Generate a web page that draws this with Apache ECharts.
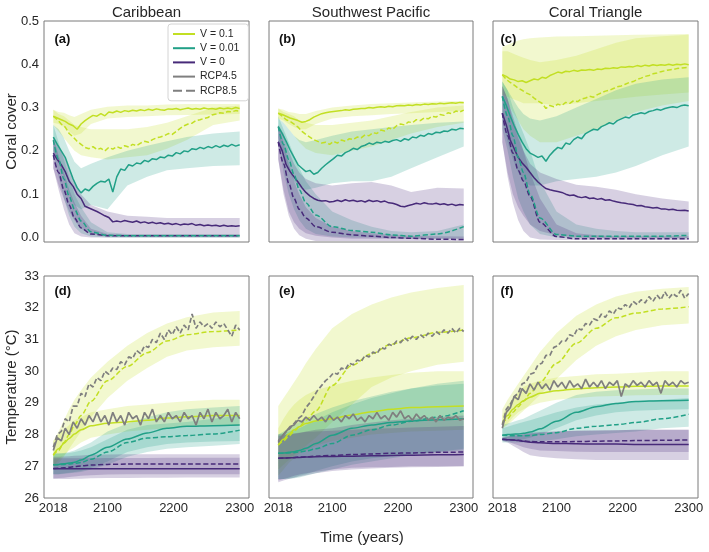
<!DOCTYPE html>
<html><head><meta charset="utf-8">
<script src="https://cdn.jsdelivr.net/npm/echarts@6/dist/echarts.min.js"></script>
<style>html,body{margin:0;padding:0;background:#fff}#c{width:709px;height:552px}</style>
</head><body><div id="c"></div>
<script>
// ---------- x positions ----------
const yrsN = [2018,2024,2030,2036,2042,2048,2054,2060,2066,2072,2078,2084,2090,2096,2102,2108,2114,2120,2126,2132,2138,2144,2150,2156,2162,2168,2174,2180,2186,2192,2198,2204,2210,2216,2222,2228,2234,2240,2246,2252,2258,2264,2270,2276,2282,2288,2294,2300];
const yrsB = [2018,2026,2034,2042,2050,2060,2075,2100,2130,2160,2190,2220,2260,2300];
const xTickLabels = [2018,2100,2200,2300];
const coverTickLabels = [0,0.1,0.2,0.3,0.4,0.5];
const columnTitles = ['Caribbean','Southwest Pacific','Coral Triangle'];
const panelLabels = ['(a)','(b)','(c)','(d)','(e)','(f)'];
const legendNames = ['V = 0.1','V = 0.01','V = 0','RCP4.5','RCP8.5'];

// ---------- (a) Caribbean coral cover ----------
const a_v01_45 = [.280,.276,.272,.268,.262,.258,.250,.262,.270,.276,.282,.280,.286,.281,.290,.288,.292,.289,.293,.291,.294,.292,.295,.293,.296,.294,.297,.295,.294,.297,.296,.298,.295,.297,.299,.296,.298,.296,.299,.297,.298,.296,.299,.297,.299,.297,.300,.298];
const a_v01_85 = [.280,.272,.262,.255,.240,.232,.222,.215,.208,.205,.210,.203,.206,.200,.208,.204,.210,.206,.212,.209,.215,.212,.218,.222,.220,.226,.230,.232,.235,.240,.238,.245,.252,.258,.262,.264,.270,.272,.275,.277,.283,.285,.288,.287,.291,.290,.293,.292];
const a_v001_45 = [.232,.215,.200,.185,.160,.135,.115,.103,.112,.108,.118,.125,.130,.128,.135,.105,.140,.158,.155,.168,.165,.172,.170,.178,.175,.182,.180,.186,.184,.190,.188,.196,.193,.200,.198,.205,.203,.208,.205,.210,.207,.212,.208,.213,.210,.215,.211,.214];
const a_v001_85 = [.225,.18,.135,.095,.065,.038,.013,.005,.004,.004,.004,.004,.004,.004];
const a_v0_45 = [.195,.180,.168,.152,.130,.118,.100,.090,.072,.068,.064,.060,.055,.050,.046,.036,.038,.036,.039,.037,.035,.038,.034,.036,.033,.035,.032,.034,.031,.033,.030,.032,.029,.031,.030,.032,.028,.030,.027,.029,.027,.028,.026,.028,.026,.027,.026,.027];
const a_v0_85 = [.19,.15,.11,.075,.045,.022,.008,.004,.004,.004,.004,.004,.004,.004];
const a_v01_45_lo = [.265,.262,.255,.245,.235,.24,.262,.275,.278,.28,.282,.283,.284,.285];
const a_v01_45_hi = [.295,.29,.288,.282,.278,.285,.295,.302,.305,.305,.307,.308,.308,.308];
const a_v01_85_lo = [.26,.245,.23,.215,.2,.19,.185,.18,.185,.19,.205,.225,.26,.27];
const a_v01_85_hi = [.295,.285,.28,.27,.26,.255,.25,.25,.25,.255,.265,.28,.3,.305];
const a_v001_45_lo = [.2,.175,.14,.1,.075,.065,.075,.065,.12,.14,.155,.16,.165,.167];
const a_v001_45_hi = [.26,.25,.23,.2,.175,.16,.17,.185,.2,.212,.222,.232,.24,.245];
const a_v001_85_lo = [.19,.14,.09,.05,.025,.01,.002,0,0,0,0,0,0,0];
const a_v001_85_hi = [.26,.22,.18,.14,.1,.07,.035,.012,.008,.008,.008,.008,.008,.008];
const a_v0_45_lo = [.16,.12,.09,.06,.04,.02,.008,.003,.003,.003,.003,.003,.003,.003];
const a_v0_45_hi = [.23,.21,.19,.16,.13,.1,.075,.06,.05,.048,.045,.045,.045,.045];
const a_v0_85_lo = [.16,.11,.065,.03,.01,.002,0,0,0,0,0,0,0,0];
const a_v0_85_hi = [.23,.19,.15,.11,.08,.05,.02,.008,.006,.006,.006,.006,.006,.006];

// ---------- (b) Southwest Pacific coral cover ----------
const b_v01_45 = [.287,.284,.280,.276,.273,.270,.266,.268,.272,.278,.282,.286,.288,.290,.291,.292,.293,.295,.294,.296,.297,.298,.298,.300,.299,.301,.302,.301,.303,.302,.304,.305,.304,.306,.305,.307,.306,.308,.307,.309,.308,.310,.309,.310,.311,.310,.312,.311];
const b_v01_85 = [.287,.280,.272,.268,.262,.255,.245,.238,.232,.226,.222,.218,.220,.215,.222,.218,.225,.222,.228,.226,.232,.230,.237,.235,.242,.240,.248,.246,.253,.250,.258,.262,.260,.267,.265,.272,.270,.276,.274,.280,.278,.284,.282,.288,.286,.292,.290,.294];
const b_v001_45 = [.256,.240,.222,.202,.185,.168,.160,.152,.155,.146,.150,.160,.168,.175,.182,.190,.188,.196,.200,.206,.203,.210,.213,.218,.215,.220,.218,.222,.220,.224,.226,.222,.228,.225,.232,.230,.236,.234,.240,.238,.243,.242,.246,.245,.250,.248,.252,.251];
const b_v001_85 = [.256,.215,.18,.145,.11,.08,.052,.025,.016,.012,.006,.003,.008,.025];
const b_v0_45 = [.221,.200,.168,.152,.140,.128,.115,.104,.096,.090,.086,.084,.085,.082,.083,.086,.083,.087,.084,.086,.083,.085,.082,.086,.083,.085,.082,.084,.080,.079,.076,.072,.071,.074,.076,.079,.077,.080,.078,.077,.079,.076,.078,.075,.077,.074,.076,.075];
const b_v0_85 = [.221,.17,.125,.09,.065,.045,.025,.012,.006,.003,0,-.002,-.004,-.005];
const b_v01_45_lo = [.275,.27,.262,.255,.25,.25,.262,.275,.28,.282,.285,.287,.29,.292];
const b_v01_45_hi = [.298,.295,.29,.288,.285,.285,.292,.3,.305,.308,.31,.312,.314,.315];
const b_v01_85_lo = [.275,.265,.25,.235,.22,.205,.195,.19,.2,.21,.225,.24,.255,.265];
const b_v01_85_hi = [.298,.29,.285,.28,.27,.265,.26,.26,.265,.27,.28,.29,.3,.305];
const b_v001_45_lo = [.23,.19,.155,.13,.115,.11,.115,.125,.13,.13,.14,.16,.185,.21];
const b_v001_45_hi = [.275,.265,.25,.235,.225,.22,.225,.235,.245,.25,.255,.26,.265,.268];
const b_v001_85_lo = [.22,.15,.1,.065,.04,.02,.008,.002,0,0,-.002,-.003,-.003,-.003];
const b_v001_85_hi = [.28,.25,.22,.19,.16,.13,.1,.06,.04,.025,.015,.012,.015,.03];
const b_v0_45_lo = [.18,.11,.06,.035,.02,.01,.004,0,-.003,-.003,-.003,-.003,-.003,-.003];
const b_v0_45_hi = [.26,.24,.2,.17,.15,.135,.125,.12,.125,.128,.12,.105,.115,.113];
const b_v0_85_lo = [.18,.1,.05,.02,.005,-.003,-.008,-.008,-.008,-.008,-.008,-.008,-.008,-.008];
const b_v0_85_hi = [.26,.22,.17,.13,.1,.07,.045,.025,.015,.01,.006,.004,.003,.002];

// ---------- (c) Coral Triangle coral cover ----------
const c_v01_45 = [.376,.372,.366,.364,.360,.362,.358,.362,.366,.364,.370,.368,.374,.378,.382,.380,.384,.383,.386,.384,.387,.386,.388,.386,.389,.388,.391,.390,.392,.391,.394,.393,.395,.394,.397,.395,.398,.396,.399,.397,.399,.398,.400,.398,.400,.399,.401,.399];
const c_v01_85 = [.376,.365,.358,.352,.345,.340,.334,.330,.322,.315,.310,.298,.305,.302,.308,.305,.312,.310,.316,.314,.320,.322,.326,.324,.330,.334,.338,.340,.344,.348,.350,.354,.358,.360,.365,.368,.372,.374,.378,.380,.383,.385,.387,.388,.390,.391,.392,.393];
const c_v001_45 = [.326,.305,.280,.258,.238,.220,.205,.195,.190,.185,.188,.176,.190,.200,.208,.205,.218,.215,.226,.232,.228,.240,.245,.250,.248,.256,.260,.265,.262,.270,.274,.278,.276,.283,.285,.288,.286,.291,.293,.296,.294,.298,.300,.302,.300,.304,.306,.304];
const c_v001_85 = [.326,.28,.235,.185,.15,.1,.045,.007,.003,.003,.003,.003,.003,.005];
const c_v0_45 = [.287,.260,.225,.205,.185,.172,.162,.150,.138,.128,.120,.113,.110,.108,.106,.104,.100,.097,.098,.094,.092,.094,.090,.091,.088,.090,.086,.087,.084,.082,.080,.079,.077,.076,.073,.074,.071,.070,.068,.069,.066,.066,.064,.065,.063,.062,.063,.061];
const c_v0_85 = [.287,.235,.195,.155,.13,.095,.035,.002,-.003,-.003,-.003,-.003,-.003,-.003];
const c_v01_45_lo = [.33,.325,.32,.315,.31,.31,.31,.305,.31,.315,.32,.325,.33,.335];
const c_v01_45_hi = [.44,.445,.45,.455,.458,.46,.462,.464,.465,.466,.467,.468,.469,.47];
const c_v01_85_lo = [.33,.31,.29,.27,.25,.235,.22,.22,.235,.25,.27,.29,.305,.315];
const c_v01_85_hi = [.43,.43,.425,.42,.415,.41,.405,.41,.42,.435,.45,.46,.465,.468];
const c_v001_45_lo = [.28,.22,.18,.15,.13,.12,.12,.13,.135,.14,.15,.165,.19,.21];
const c_v001_45_hi = [.36,.34,.32,.3,.285,.275,.27,.28,.3,.32,.34,.355,.365,.37];
const c_v001_85_lo = [.25,.2,.14,.09,.06,.03,.008,0,-.002,-.002,-.002,-.002,-.002,-.002];
const c_v001_85_hi = [.36,.34,.3,.27,.24,.2,.13,.06,.03,.02,.015,.012,.012,.012];
const c_v0_45_lo = [.22,.15,.1,.07,.05,.03,.015,.005,0,-.002,-.002,-.002,-.002,-.002];
const c_v0_45_hi = [.35,.32,.27,.23,.2,.17,.15,.135,.122,.117,.11,.1,.09,.083];
const c_v0_85_lo = [.22,.14,.08,.04,.015,0,-.005,-.006,-.006,-.006,-.006,-.006,-.006,-.006];
const c_v0_85_hi = [.35,.32,.28,.24,.2,.15,.09,.03,.01,.005,.003,.003,.003,.003];

// ---------- (d) Caribbean temperature ----------
const d_gray45 = [27.5,27.9,27.8,28.2,28.0,28.4,28.2,28.5,28.3,28.6,28.4,28.7,28.4,28.6,28.3,28.7,28.4,28.6,28.3,28.7,28.5,28.6,28.3,28.7,28.5,28.8,28.4,28.6,28.4,28.7,28.5,28.6,28.4,28.7,28.5,28.6,28.3,28.7,28.5,28.8,28.4,28.7,28.5,28.6,28.8,28.4,28.7,28.5];
const d_gray85 = [27.6,28.0,28.1,28.5,28.4,28.9,28.9,29.3,29.2,29.6,29.5,29.8,29.7,30.0,29.9,30.1,30.05,30.3,30.2,30.45,30.4,30.65,30.55,30.8,30.75,31.0,30.9,31.2,31.0,31.3,31.15,31.4,31.2,31.45,31.3,31.8,31.35,31.55,31.4,31.5,31.35,31.55,31.4,31.5,31.3,31.1,31.45,31.3];
const d_v01_45 = [27.35,27.55,27.72,27.88,28.02,28.15,28.28,28.36,28.4,28.45,28.52,28.56,28.6,28.6];
const d_v01_85 = [27.35,27.5,27.75,28.0,28.3,28.6,29.05,29.7,30.15,30.58,30.95,31.15,31.25,31.3];
const d_v001_45 = [27.05,27.06,27.08,27.1,27.13,27.2,27.35,27.6,27.86,28.05,28.2,28.26,28.28,28.3];
const d_v001_85 = [27.05,27.05,27.06,27.07,27.09,27.12,27.22,27.45,27.75,27.89,27.93,27.97,28.02,28.14];
const d_v0_45 = [26.92,26.92,26.92,26.92,26.92,26.92,26.92,26.92,26.92,26.92,26.92,26.92,26.92,26.92];
const d_v0_85 = [26.93,26.94,26.95,26.97,26.99,27.01,27.04,27.06,27.07,27.07,27.07,27.07,27.07,27.07];
const d_v01_45_lo = [27.0,27.2,27.35,27.5,27.6,27.75,27.9,28.0,28.1,28.15,28.2,28.25,28.27,28.3];
const d_v01_45_hi = [27.8,28.0,28.15,28.3,28.45,28.55,28.7,28.8,28.9,28.95,29.0,29.05,29.1,29.1];
const d_v01_85_lo = [27.0,27.1,27.3,27.55,27.8,28.1,28.55,29.15,29.7,30.1,30.45,30.65,30.75,30.8];
const d_v01_85_hi = [27.8,28.1,28.45,28.8,29.1,29.4,29.8,30.3,30.8,31.2,31.5,31.7,31.85,31.9];
const d_v001_45_lo = [26.75,26.75,26.78,26.8,26.82,26.85,26.95,27.15,27.45,27.6,27.7,27.75,27.78,27.8];
const d_v001_45_hi = [27.4,27.4,27.42,27.45,27.5,27.6,27.75,28.1,28.35,28.55,28.7,28.8,28.85,28.9];
const d_v001_85_lo = [26.75,26.75,26.76,26.78,26.8,26.82,26.9,27.05,27.3,27.45,27.55,27.6,27.65,27.7];
const d_v001_85_hi = [27.4,27.4,27.4,27.42,27.45,27.5,27.6,27.85,28.15,28.3,28.35,28.4,28.5,28.6];
const d_v0_45_lo = [26.6,26.6,26.6,26.6,26.61,26.61,26.62,26.63,26.63,26.64,26.64,26.65,26.65,26.65];
const d_v0_45_hi = [27.25,27.25,27.25,27.25,27.25,27.25,27.25,27.26,27.26,27.26,27.27,27.27,27.27,27.27];
const d_v0_85_lo = [26.62,26.63,26.64,26.66,26.68,26.7,26.72,26.74,26.75,26.75,26.75,26.75,26.75,26.75];
const d_v0_85_hi = [27.3,27.3,27.31,27.32,27.33,27.34,27.36,27.37,27.38,27.38,27.38,27.38,27.38,27.38];

// ---------- (e) Southwest Pacific temperature ----------
const e_gray45 = [27.75,27.95,28.1,28.25,28.3,28.45,28.4,28.55,28.45,28.6,28.45,28.55,28.4,28.6,28.45,28.55,28.4,28.6,28.5,28.65,28.45,28.55,28.4,28.6,28.5,28.7,28.5,28.6,28.45,28.7,28.55,28.75,28.5,28.6,28.45,28.65,28.5,28.6,28.45,28.55,28.4,28.6,28.45,28.55,28.5,28.6,28.45,28.5];
const e_gray85 = [27.8,27.95,28.1,28.2,28.35,28.5,28.6,28.85,29.0,29.2,29.4,29.55,29.7,29.8,29.95,29.9,30.1,30.05,30.25,30.2,30.35,30.3,30.5,30.45,30.6,30.55,30.75,30.7,30.85,30.8,30.95,30.9,31.05,30.95,31.1,31.0,31.15,31.05,31.2,31.1,31.25,31.15,31.3,31.2,31.35,31.2,31.35,31.25];
const e_v01_45 = [27.67,27.85,28.02,28.15,28.25,28.35,28.43,28.5,28.62,28.72,28.8,28.85,28.88,28.9];
const e_v01_85 = [27.67,27.8,27.95,28.1,28.25,28.45,28.75,29.55,30.18,30.55,30.85,31.05,31.22,31.3];
const e_v001_45 = [27.41,27.42,27.44,27.46,27.5,27.57,27.72,27.98,28.2,28.3,28.38,28.43,28.47,28.5];
const e_v001_85 = [27.41,27.41,27.42,27.43,27.45,27.48,27.55,27.72,27.98,28.15,28.3,28.42,28.55,28.75];
const e_v0_45 = [27.25,27.26,27.27,27.27,27.28,27.29,27.3,27.31,27.32,27.33,27.34,27.35,27.36,27.37];
const e_v0_85 = [27.25,27.26,27.27,27.28,27.29,27.3,27.32,27.34,27.37,27.39,27.41,27.42,27.44,27.45];
const e_v01_45_lo = [26.7,26.9,27.1,27.25,27.4,27.5,27.65,27.8,27.9,28.0,28.05,28.1,28.12,28.15];
const e_v01_45_hi = [28.2,28.5,28.75,28.95,29.1,29.25,29.4,29.55,29.7,29.8,29.88,29.95,30.0,30.0];
const e_v01_85_lo = [26.9,27.05,27.2,27.35,27.5,27.65,27.9,28.4,28.95,29.5,29.8,30.0,30.2,30.3];
const e_v01_85_hi = [28.9,29.15,29.4,29.65,29.9,30.25,30.7,31.35,31.8,32.1,32.32,32.48,32.62,32.72];
const e_v001_45_lo = [26.6,26.6,26.62,26.65,26.7,26.75,26.85,27.0,27.15,27.25,27.32,27.38,27.45,27.5];
const e_v001_45_hi = [28.0,28.1,28.2,28.3,28.4,28.5,28.65,28.85,29.05,29.2,29.35,29.45,29.55,29.6];
const e_v001_85_lo = [26.6,26.6,26.6,26.62,26.65,26.7,26.78,26.9,27.05,27.15,27.25,27.35,27.45,27.55];
const e_v001_85_hi = [28.0,28.05,28.1,28.15,28.2,28.3,28.45,28.7,28.95,29.15,29.3,29.45,29.6,29.7];
const e_v0_45_lo = [26.5,26.55,26.6,26.64,26.68,26.72,26.78,26.85,26.9,26.93,26.95,26.97,26.98,27.0];
const e_v0_45_hi = [28.0,28.0,28.02,28.04,28.06,28.08,28.1,28.12,28.15,28.18,28.2,28.22,28.25,28.27];
const e_v0_85_lo = [26.55,26.6,26.65,26.7,26.74,26.78,26.83,26.9,26.95,26.97,26.98,27.0,27.0,27.0];
const e_v0_85_hi = [27.95,27.97,28.0,28.02,28.05,28.1,28.15,28.2,28.3,28.38,28.45,28.5,28.55,28.6];

// ---------- (f) Coral Triangle temperature ----------
const f_gray45 = [28.2,28.7,28.85,29.2,29.1,29.45,29.3,29.6,29.4,29.65,29.45,29.6,29.4,29.7,29.5,29.65,29.45,29.7,29.5,29.6,29.45,29.75,29.5,29.65,29.5,29.7,29.45,29.65,29.55,29.7,29.2,29.6,29.5,29.7,29.55,29.65,29.5,29.7,29.55,29.65,29.3,29.7,29.55,29.65,29.5,29.7,29.6,29.65];
const f_gray85 = [28.3,28.8,28.95,29.2,29.3,29.6,29.65,29.9,29.95,30.2,30.25,30.5,30.5,30.75,30.8,30.95,30.95,31.15,31.1,31.35,31.3,31.5,31.45,31.65,31.6,31.8,31.7,31.9,31.8,32.0,31.95,32.1,32.0,32.2,32.1,32.25,32.15,32.35,32.2,32.4,32.25,32.5,32.3,32.45,32.35,32.55,32.3,32.45];
const f_v01_45 = [28.35,28.6,28.8,28.95,29.07,29.18,29.3,29.38,29.44,29.48,29.5,29.52,29.53,29.53];
const f_v01_85 = [28.35,28.5,28.7,28.88,29.05,29.3,29.65,30.25,30.88,31.35,31.68,31.83,31.96,32.03];
const f_v001_45 = [27.98,28.0,28.01,28.02,28.04,28.08,28.18,28.42,28.7,28.88,28.98,29.04,29.07,29.08];
const f_v001_85 = [27.98,27.97,27.96,27.96,27.96,27.97,28.0,28.06,28.2,28.26,28.31,28.38,28.5,28.64];
const f_v0_45 = [27.85,27.84,27.83,27.81,27.79,27.76,27.74,27.72,27.71,27.7,27.7,27.69,27.69,27.69];
const f_v0_85 = [27.85,27.84,27.83,27.82,27.8,27.78,27.77,27.77,27.78,27.79,27.8,27.81,27.82,27.83];
const f_v01_45_lo = [28.2,28.35,28.55,28.7,28.8,28.9,29.0,29.1,29.15,29.2,29.22,29.24,29.25,29.25];
const f_v01_45_hi = [28.6,28.9,29.15,29.35,29.5,29.6,29.7,29.8,29.85,29.9,29.92,29.95,30.0,30.0];
const f_v01_85_lo = [28.2,28.3,28.45,28.6,28.75,28.95,29.25,29.75,30.35,30.8,31.1,31.3,31.45,31.5];
const f_v01_85_hi = [28.8,29.1,29.35,29.6,29.85,30.15,30.6,31.2,31.75,32.1,32.35,32.5,32.6,32.65];
const f_v001_45_lo = [27.8,27.8,27.8,27.82,27.85,27.9,28.0,28.2,28.45,28.6,28.7,28.75,28.78,28.8];
const f_v001_45_hi = [28.3,28.35,28.4,28.45,28.5,28.6,28.75,29.0,29.25,29.35,29.4,29.42,29.45,29.45];
const f_v001_85_lo = [27.75,27.75,27.75,27.75,27.75,27.76,27.78,27.85,27.95,28.0,28.05,28.1,28.2,28.25];
const f_v001_85_hi = [28.2,28.25,28.3,28.35,28.4,28.45,28.55,28.7,28.85,28.95,29.0,29.05,29.1,29.15];
const f_v0_45_lo = [27.8,27.75,27.65,27.55,27.45,27.35,27.3,27.25,27.22,27.2,27.2,27.2,27.2,27.2];
const f_v0_45_hi = [27.9,27.95,28.0,28.02,28.04,28.06,28.08,28.1,28.12,28.13,28.14,28.15,28.15,28.15];
const f_v0_85_lo = [27.8,27.78,27.72,27.66,27.6,27.55,27.5,27.48,27.46,27.45,27.45,27.45,27.45,27.45];
const f_v0_85_hi = [27.9,27.93,27.96,27.98,28.0,28.03,28.06,28.1,28.12,28.13,28.14,28.15,28.15,28.15];

// ---------- styling ----------
const FONT = "'Liberation Sans', Arial, Helvetica, sans-serif";
const TXT = '#262626';
const C1 = '#c2df23', C2 = '#21a087', C3 = '#472a79', CG = '#7f7f7f';
const DASH = [5, 2.5];
const BAND_OP = 0.22;

const grids = [
  {left:44, top:21, width:205, height:221},
  {left:269, top:21, width:204, height:221},
  {left:493, top:21, width:205, height:221},
  {left:44, top:276, width:205, height:222},
  {left:269, top:276, width:204, height:222},
  {left:493, top:276, width:205, height:222}
].map(g => Object.assign(g, {show:true, borderColor:'#7a7a7a', borderWidth:1, backgroundColor:'#fff', containLabel:false}));

const xAxes = grids.map((g, i) => ({
  type:'value', gridIndex:i, min:2003.9, max:2314.1,
  axisLine:{show:false}, axisTick:{show:false}, splitLine:{show:false},
  axisLabel:{show:i >= 3, customValues:xTickLabels, formatter:v => String(Math.round(v)), margin:4, fontSize:13, color:TXT, fontFamily:FONT}
}));
const yAxes = grids.map((g, i) => i < 3 ? {
  type:'value', gridIndex:i, min:-0.0105, max:0.5,
  axisLine:{show:false}, axisTick:{show:false}, splitLine:{show:false},
  axisLabel:{show:i === 0, customValues:coverTickLabels, formatter:v => Number(v).toFixed(1), margin:5, fontSize:13, color:TXT, fontFamily:FONT}
} : {
  type:'value', gridIndex:i, min:26, max:33, interval:1,
  axisLine:{show:false}, axisTick:{show:false}, splitLine:{show:false},
  axisLabel:{show:i === 3, margin:5, fontSize:13, color:TXT, fontFamily:FONT, showMinLabel:true, showMaxLabel:true}
});

const seriesList = [];
function band(gi, lo, hi, color) {
  const data = yrsB.map((y, k) => [y, lo[k], hi[k]]);
  seriesList.push({
    type:'custom', xAxisIndex:gi, yAxisIndex:gi, silent:true, z:1, clip:true,
    data, encode:{x:0, y:[1, 2]},
    renderItem:(params, api) => {
      if (params.dataIndex !== 0) return null;
      const pts = [];
      for (let k = 0; k < data.length; k++) pts.push(api.coord([data[k][0], data[k][2]]));
      for (let k = data.length - 1; k >= 0; k--) pts.push(api.coord([data[k][0], data[k][1]]));
      return {type:'polygon', shape:{points:pts}, style:{fill:color, opacity:BAND_OP}};
    }
  });
}
function line(gi, xs, ys, color, dashed, smooth, z, w) {
  seriesList.push({
    type:'line', xAxisIndex:gi, yAxisIndex:gi, silent:true, z:z || 2, clip:true,
    data:xs.map((x, k) => [x, ys[k]]), symbol:'none', showSymbol:false,
    smooth:smooth ? 0.3 : false, smoothMonotone:'x',
    lineStyle:{color, width:w || 1.5, type:dashed ? DASH : 'solid'}, itemStyle:{color},
    emphasis:{disabled:true}
  });
}

// top row (coral cover)
const topPanels = [
  [0, a_v01_45, a_v01_85, a_v001_45, a_v001_85, a_v0_45, a_v0_85,
   [a_v01_45_lo,a_v01_45_hi],[a_v01_85_lo,a_v01_85_hi],[a_v001_45_lo,a_v001_45_hi],[a_v001_85_lo,a_v001_85_hi],[a_v0_45_lo,a_v0_45_hi],[a_v0_85_lo,a_v0_85_hi]],
  [1, b_v01_45, b_v01_85, b_v001_45, b_v001_85, b_v0_45, b_v0_85,
   [b_v01_45_lo,b_v01_45_hi],[b_v01_85_lo,b_v01_85_hi],[b_v001_45_lo,b_v001_45_hi],[b_v001_85_lo,b_v001_85_hi],[b_v0_45_lo,b_v0_45_hi],[b_v0_85_lo,b_v0_85_hi]],
  [2, c_v01_45, c_v01_85, c_v001_45, c_v001_85, c_v0_45, c_v0_85,
   [c_v01_45_lo,c_v01_45_hi],[c_v01_85_lo,c_v01_85_hi],[c_v001_45_lo,c_v001_45_hi],[c_v001_85_lo,c_v001_85_hi],[c_v0_45_lo,c_v0_45_hi],[c_v0_85_lo,c_v0_85_hi]]
];
topPanels.forEach(p => {
  const g = p[0];
  band(g, p[7][0], p[7][1], C1); band(g, p[8][0], p[8][1], C1);
  band(g, p[9][0], p[9][1], C2); band(g, p[10][0], p[10][1], C2);
  band(g, p[11][0], p[11][1], C3); band(g, p[12][0], p[12][1], C3);
  line(g, yrsB, p[6], C3, true, true);
  line(g, yrsN, p[5], C3, false, false);
  line(g, yrsB, p[4], C2, true, true);
  line(g, yrsN, p[3], C2, false, false);
  line(g, yrsN, p[2], C1, true, false);
  line(g, yrsN, p[1], C1, false, false);
});

// bottom row (temperature)
const botPanels = [
  [3, d_v01_45, d_v01_85, d_v001_45, d_v001_85, d_v0_45, d_v0_85,
   [d_v01_45_lo,d_v01_45_hi],[d_v01_85_lo,d_v01_85_hi],[d_v001_45_lo,d_v001_45_hi],[d_v001_85_lo,d_v001_85_hi],[d_v0_45_lo,d_v0_45_hi],[d_v0_85_lo,d_v0_85_hi], d_gray45, d_gray85],
  [4, e_v01_45, e_v01_85, e_v001_45, e_v001_85, e_v0_45, e_v0_85,
   [e_v01_45_lo,e_v01_45_hi],[e_v01_85_lo,e_v01_85_hi],[e_v001_45_lo,e_v001_45_hi],[e_v001_85_lo,e_v001_85_hi],[e_v0_45_lo,e_v0_45_hi],[e_v0_85_lo,e_v0_85_hi], e_gray45, e_gray85],
  [5, f_v01_45, f_v01_85, f_v001_45, f_v001_85, f_v0_45, f_v0_85,
   [f_v01_45_lo,f_v01_45_hi],[f_v01_85_lo,f_v01_85_hi],[f_v001_45_lo,f_v001_45_hi],[f_v001_85_lo,f_v001_85_hi],[f_v0_45_lo,f_v0_45_hi],[f_v0_85_lo,f_v0_85_hi], f_gray45, f_gray85]
];
botPanels.forEach(p => {
  const g = p[0];
  band(g, p[7][0], p[7][1], C1); band(g, p[8][0], p[8][1], C1);
  band(g, p[9][0], p[9][1], C2); band(g, p[10][0], p[10][1], C2);
  band(g, p[11][0], p[11][1], C3); band(g, p[12][0], p[12][1], C3);
  line(g, yrsB, p[5], C3, false, true);
  line(g, yrsB, p[6], C3, true, true);
  line(g, yrsB, p[3], C2, false, true);
  line(g, yrsB, p[4], C2, true, true);
  line(g, yrsB, p[1], C1, false, true);
  line(g, yrsB, p[2], C1, true, true);
  line(g, yrsN, p[13], CG, false, false, 3, 1.7);
  line(g, yrsN, p[14], CG, true, false, 3, 1.7);
});

// legend proxies (icons drawn as line / dashed-line paths)
const legendStyles = [[C1,'solid'],[C2,'solid'],[C3,'solid'],[CG,'solid'],[CG,DASH]];
const ICON_SOLID = 'path://M0,0h22v2h-22z';
const ICON_DASH = 'path://M0,0h9v2h-9zM13,0h9v2h-9z';
legendNames.forEach((n, k) => seriesList.push({
  type:'line', name:n, xAxisIndex:0, yAxisIndex:0, data:[], symbol:'none',
  lineStyle:{color:legendStyles[k][0], width:2, type:legendStyles[k][1]}, itemStyle:{color:legendStyles[k][0]}
}));
const legendData = legendNames.map((n, k) => ({name:n, icon:k === 4 ? ICON_DASH : ICON_SOLID}));

// texts
const graphicList = [];
const colCenters = [146.5, 371, 595.5];
columnTitles.forEach((t, k) => graphicList.push({type:'text', x:colCenters[k], y:12.5, z:100,
  style:{text:t, fontSize:15, fontFamily:FONT, fill:TXT, align:'center', verticalAlign:'middle'}}));
const labPos = [[54.5,39.5],[279,39.5],[500.5,39.5],[54.5,291.5],[279,291.5],[500.5,291.5]];
panelLabels.forEach((t, k) => graphicList.push({type:'text', x:labPos[k][0], y:labPos[k][1], z:100,
  style:{text:t, fontSize:13, fontWeight:'bold', fontFamily:FONT, fill:'#111', align:'left', verticalAlign:'middle'}}));
graphicList.push({type:'text', x:12, y:131.5, rotation:Math.PI/2, z:100,
  style:{text:'Coral cover', fontSize:15, fontFamily:FONT, fill:TXT, align:'center', verticalAlign:'middle'}});
graphicList.push({type:'text', x:12, y:387, rotation:Math.PI/2, z:100,
  style:{text:'Temperature (°C)', fontSize:15, fontFamily:FONT, fill:TXT, align:'center', verticalAlign:'middle'}});
graphicList.push({type:'text', x:362, y:538, z:100,
  style:{text:'Time (years)', fontSize:15, fontFamily:FONT, fill:TXT, align:'center', verticalAlign:'middle'}});

const chart = echarts.init(document.getElementById('c'), null, {renderer:'canvas'});
chart.setOption({
  animation:false,
  backgroundColor:'#fff',
  grid:grids, xAxis:xAxes, yAxis:yAxes,
  legend:{data:legendData, orient:'vertical', left:168, top:24, itemWidth:22, itemHeight:2, itemGap:2.2,
    padding:[4,9,4,5], backgroundColor:'rgba(255,255,255,0.85)', borderColor:'#d4d4d4', borderWidth:1, borderRadius:3,
    selectedMode:false, textStyle:{fontSize:10.5, lineHeight:12, color:TXT, fontFamily:FONT}, z:50},
  series:seriesList, graphic:graphicList
});
</script></body></html>
